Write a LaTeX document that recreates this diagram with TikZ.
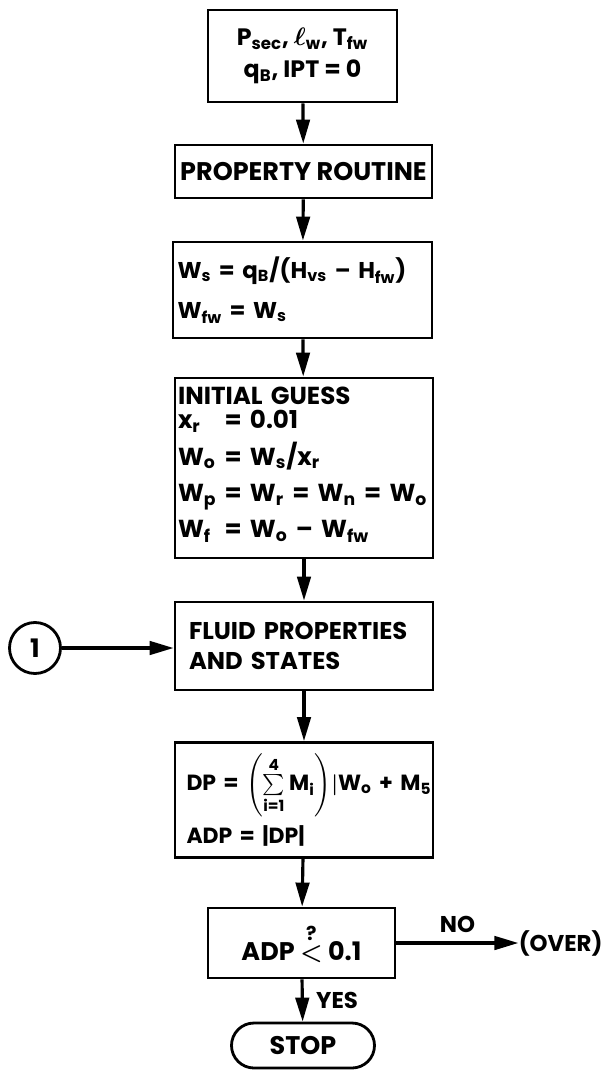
\documentclass[tikz,border=0pt]{standalone}
\usepackage{amsmath}
\usepackage{fontspec}
\setmainfont{Poppins}
\usetikzlibrary{arrows.meta,positioning}
\newcommand{\sbs}[1]{\textsubscript{#1}}
\tikzset{
  ar/.style={-{Triangle[length=4.8mm,width=2.7mm]},line width=1.8pt},
  blk/.style={draw,line width=1.6pt,align=center,inner sep=3pt,
    font=\fontsize{14.5}{17}\selectfont\bfseries\boldmath},
  lbl/.style={font=\fontsize{13}{15}\selectfont\bfseries\boldmath,inner sep=2pt}
}

\begin{document}
\begin{tikzpicture}
\useasboundingbox (0,0) rectangle (12.02,-21.48);
\node[blk,minimum width=3.78cm,minimum height=1.84cm,font=\fontsize{13.5}{18}\selectfont\bfseries\boldmath] (input) at (6.05,-1.12)
  {P\sbs{sec}, $\ell$\sbs{w}, T\sbs{fw}\\ q\sbs{B}, IPT = 0};
\node[blk,minimum width=5.14cm,minimum height=1.06cm] (prop) at (6.07,-3.43) {PROPERTY ROUTINE};
\node[blk,align=left,text width=5.0cm,inner xsep=0.09cm,minimum height=1.92cm,
  font=\fontsize{13}{17}\selectfont\bfseries\boldmath] (flow) at (6.05,-5.8)
  {\mbox{W\sbs{s} = q\sbs{B}/(H\sbs{vs} -- H\sbs{fw})}\\[6pt] W\sbs{fw} = W\sbs{s}};
\node[blk,align=left,text width=5.04cm,inner xsep=0.06cm,minimum height=3.6cm,
  font=\fontsize{14}{17}\selectfont\bfseries\boldmath] (guess) at (6.08,-9.36)
  {INITIAL GUESS\\[-2pt]
   \def\arraystretch{1.22}%
   \begin{tabular}{@{}l@{ = }l@{}}
   x\sbs{r} & 0.01\\
   W\sbs{o} & W\sbs{s}/x\sbs{r}\\
   W\sbs{p} & W\sbs{r} = W\sbs{n} = W\sbs{o}\\
   W\sbs{f} & W\sbs{o} -- W\sbs{fw}
   \end{tabular}};
\node[blk,align=left,text width=4.6cm,inner xsep=0.28cm,minimum height=1.76cm,
  font=\fontsize{13.8}{17}\selectfont\bfseries\boldmath] (fluid) at (6.08,-12.92)
  {\mbox{FLUID PROPERTIES}\\ AND STATES};
\node[blk,align=left,text width=4.7cm,inner xsep=0.23cm,minimum height=2.3cm,
  font=\fontsize{12.5}{15}\selectfont\bfseries\boldmath] (dp) at (6.08,-16.0)
  {\mbox{DP = $\left(\sum\limits_{\text{i=1}}^{\text{4}}\text{M}_{\text{i}}\right)\!|$W\sbs{o} + M\sbs{5}}\\[4pt] ADP = |DP|};
\node[blk,minimum width=3.74cm,minimum height=1.4cm] (test) at (6.03,-18.86)
  {ADP $\overset{\text{\fontsize{11}{11}\selectfont ?}}{<}$ 0.1};
\node[blk,minimum width=2.86cm,minimum height=0.9cm,rounded corners=0.45cm] (stop) at (6.06,-20.91) {STOP};
\node[blk,circle,minimum size=1.02cm,inner sep=0pt] (c1) at (0.7,-12.96) {1};
\node[lbl,inner sep=0pt,right=2.44cm of test] (over) {(OVER)};

\draw[ar] (input) -- (prop);
\draw[ar] (prop) -- (flow);
\draw[ar] (flow) -- (guess);
\draw[ar] (guess) -- (fluid);
\draw[ar] (c1) -- (c1 -| fluid.west);
\draw[ar] (fluid) -- (dp);
\draw[ar] (dp) -- (test);
\draw[ar] (test) -- node[lbl,right=5pt] {YES} (stop);
\draw[ar] (test) -- node[lbl,above=3pt] {NO} (over);
\end{tikzpicture}
\end{document}
